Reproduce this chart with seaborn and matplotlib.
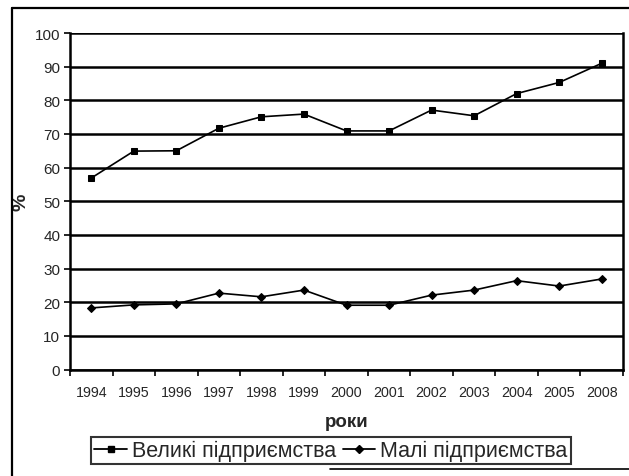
import matplotlib
matplotlib.use("Agg")
import matplotlib.pyplot as plt
import seaborn as sns
import pandas as pd
from matplotlib.lines import Line2D

years = ["1994", "1995", "1996", "1997", "1998", "1999", "2000",
         "2001", "2002", "2003", "2004", "2005", "2008"]
large = [56.9, 64.9, 65.0, 71.7, 75.1, 75.9, 70.9, 70.9, 77.1, 75.4, 82.0, 85.3, 91.0]
small = [18.3, 19.2, 19.5, 22.7, 21.6, 23.6, 19.1, 19.1, 22.1, 23.6, 26.4, 24.8, 26.9]
label_large = "Великі підприємства"
label_small = "Малі підприємства"

sns.set_theme(style="white")
plt.rcParams['font.family'] = ['Liberation Sans', 'DejaVu Sans']

fig = plt.figure(figsize=(6.29, 4.77), dpi=100)
ax = fig.add_axes([70/629, 1-370.5/477, (623-70)/629, (370.5-34)/477])

pos = list(range(len(years)))
df_l = pd.DataFrame({"x": pos, "y": large})
df_s = pd.DataFrame({"x": pos, "y": small})
sns.lineplot(data=df_l, x="x", y="y", ax=ax, color="black", lw=1.2,
             marker="s", markersize=4, markeredgecolor="black")
sns.lineplot(data=df_s, x="x", y="y", ax=ax, color="black", lw=1.2,
             marker="D", markersize=4, markeredgecolor="black")

ax.set_xlim(-0.5, len(years) - 0.5)
ax.set_ylim(0, 100)
ax.set_yticks(range(0, 101, 10))
ax.yaxis.grid(True, color="black", lw=1.8)
ax.set_axisbelow(True)
ax.set_xticks([p - 0.5 for p in pos] + [len(years) - 0.5])
ax.set_xticklabels([])
ax.set_xticks(pos, minor=True)
ax.set_xticklabels(years, minor=True, fontsize=10.3)
ax.tick_params(axis="x", which="major", length=4, width=1.2, color="black", direction="out", bottom=True)
ax.tick_params(axis="x", which="minor", length=0, pad=11, bottom=True)
ax.tick_params(axis="y", length=4, width=1.2, color="black", direction="out", left=True, labelsize=11, pad=3)
for s in ["left", "right", "bottom"]:
    ax.spines[s].set_visible(True)
    ax.spines[s].set_color("black")
    ax.spines[s].set_linewidth(1.8)
ax.spines["top"].set_visible(False)

ax.set_xlabel("роки", fontsize=13.5, fontweight="bold", labelpad=10)
ax.set_ylabel("%", fontsize=14, fontweight="bold", labelpad=4)

handles = [Line2D([0], [0], color="black", lw=1.3, marker="s", markersize=4.5),
           Line2D([0], [0], color="black", lw=1.3, marker="D", markersize=4.5)]
leg = fig.legend(handles, [label_large, label_small], loc="center",
                 bbox_to_anchor=(331/629, 1-451.5/477), ncol=2, fontsize=15.5,
                 frameon=True, fancybox=False, handlelength=1.5, handletextpad=0.25,
                 columnspacing=0.3, borderpad=0.15, borderaxespad=0)
leg.get_frame().set_edgecolor("black")
leg.get_frame().set_linewidth(1.5)

# outer frame lines (scanned chart border)
fig.add_artist(Line2D([12/629, 12/629], [0, 1-9/477], color="black", lw=1.6, transform=fig.transFigure))
fig.add_artist(Line2D([12/629, 1], [1-9/477, 1-9/477], color="black", lw=1.6, transform=fig.transFigure))
fig.add_artist(Line2D([330/629, 1], [1-470/477, 1-470/477], color="black", lw=1.2, transform=fig.transFigure))

fig.savefig("out.png", dpi=100)
